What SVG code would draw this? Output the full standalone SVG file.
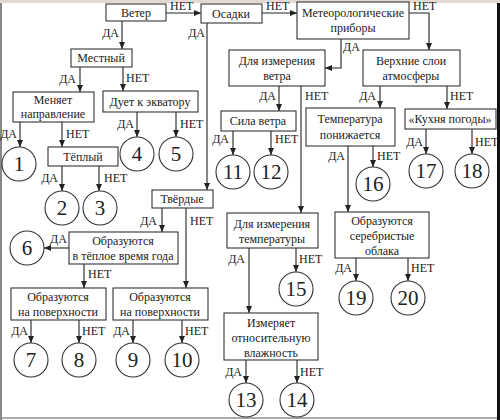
<svg xmlns="http://www.w3.org/2000/svg" width="500" height="420" viewBox="0 0 500 420">
<defs>
<marker id="ah" markerUnits="userSpaceOnUse" markerWidth="7" markerHeight="6" refX="7" refY="3" orient="auto"><path d="M0,0 L7,3 L0,6 z" fill="#222"/></marker>
<style>
.box{fill:#fff;stroke:#333;stroke-width:1.1}
.c{fill:#fff;stroke:#333;stroke-width:1.1}
.t{font-family:"Liberation Serif","Times New Roman",serif;font-size:12px;fill:#222;text-anchor:middle}
.n{font-family:"Liberation Serif","Times New Roman",serif;font-size:21px;fill:#222;text-anchor:middle}
.l{font-family:"Liberation Serif","Times New Roman",serif;font-size:12px;fill:#222}
.e{text-anchor:end}
.cn path{fill:none;stroke:#222;stroke-width:1.1;marker-end:url(#ah)}
</style>
</defs>
<rect x="0" y="0" width="500" height="420" fill="#fff"/>
<rect x="0" y="0" width="500" height="3" fill="#e2dad2"/>
<rect x="0" y="3" width="2" height="417" fill="#888"/>
<rect x="497" y="3" width="3" height="417" fill="#111"/>
<rect x="2" y="417" width="495" height="2" fill="#aaa"/>

<g id="connectors" class="cn">
<path d="M166,13 H201"/>
<path d="M122,21 V49"/>
<path d="M262,13 H297"/>
<path d="M207,23 V190"/>
<path d="M409,13 H429 V50"/>
<path d="M341,39 V68 H325"/>
<path d="M80,67 V92"/>
<path d="M123,67 V91"/>
<path d="M20,122 V147"/>
<path d="M62,122 V147"/>
<path d="M137,112 V137"/>
<path d="M176,112 V137"/>
<path d="M62,166 V191"/>
<path d="M99,166 V191"/>
<path d="M162,208 V232"/>
<path d="M186,208 V288"/>
<path d="M69,248 H44"/>
<path d="M84,264 V288"/>
<path d="M31,320 V343"/>
<path d="M79,320 V343"/>
<path d="M133,320 V343"/>
<path d="M182,320 V343"/>
<path d="M279,86 V111"/>
<path d="M301,86 V213"/>
<path d="M380,86 V108"/>
<path d="M447,86 V109"/>
<path d="M233,131 V155"/>
<path d="M271,131 V155"/>
<path d="M348,146 V212"/>
<path d="M373,146 V167"/>
<path d="M426,129 V154"/>
<path d="M472,129 V154"/>
<path d="M249,248 V313"/>
<path d="M296,248 V272"/>
<path d="M356,258 V281"/>
<path d="M408,258 V281"/>
<path d="M246,360 V383"/>
<path d="M297,360 V383"/>
<text class="l" x="170" y="10">НЕТ</text>
<text class="l e" x="119" y="37">ДА</text>
<text class="l" x="266" y="10">НЕТ</text>
<text class="l e" x="205" y="37">ДА</text>
<text class="l" x="413" y="10">НЕТ</text>
<text class="l" x="343" y="51">ДА</text>
<text class="l e" x="76" y="83">ДА</text>
<text class="l" x="126" y="82">НЕТ</text>
<text class="l e" x="17" y="138">ДА</text>
<text class="l" x="66" y="138">НЕТ</text>
<text class="l e" x="134" y="128">ДА</text>
<text class="l" x="180" y="128">НЕТ</text>
<text class="l e" x="58" y="182">ДА</text>
<text class="l" x="104" y="182">НЕТ</text>
<text class="l e" x="157" y="225">ДА</text>
<text class="l" x="190" y="225">НЕТ</text>
<text class="l" x="50" y="243">ДА</text>
<text class="l" x="88" y="278">НЕТ</text>
<text class="l e" x="28" y="335">ДА</text>
<text class="l" x="82" y="335">НЕТ</text>
<text class="l e" x="130" y="335">ДА</text>
<text class="l" x="185" y="335">НЕТ</text>
<text class="l e" x="276" y="100">ДА</text>
<text class="l" x="305" y="100">НЕТ</text>
<text class="l e" x="376" y="100">ДА</text>
<text class="l" x="450" y="100">НЕТ</text>
<text class="l e" x="229" y="143">ДА</text>
<text class="l" x="275" y="143">НЕТ</text>
<text class="l e" x="345" y="160">ДА</text>
<text class="l" x="377" y="160">НЕТ</text>
<text class="l e" x="423" y="146">ДА</text>
<text class="l" x="475" y="146">НЕТ</text>
<text class="l e" x="245" y="263">ДА</text>
<text class="l" x="299" y="263">НЕТ</text>
<text class="l e" x="352" y="272">ДА</text>
<text class="l" x="411" y="272">НЕТ</text>
<text class="l e" x="242" y="376">ДА</text>
<text class="l" x="300" y="376">НЕТ</text>
</g>

<g id="veter"><rect class="box" x="106" y="4" width="60" height="17"/><text class="t" x="136" y="17">Ветер</text></g>
<g id="osadki"><rect class="box" x="201" y="4" width="61" height="19"/><text class="t" x="231" y="18">Осадки</text></g>
<g id="meteo"><rect class="box" x="297" y="2" width="112" height="37"/><text class="t" x="353" y="17">Метеорологические</text><text class="t" x="353" y="32">приборы</text></g>
<g id="mestny"><rect class="box" x="71" y="49" width="61" height="18"/><text class="t" x="101" y="62">Местный</text></g>
<g id="menyaet"><rect class="box" x="13" y="92" width="81" height="30"/><text class="t" x="53" y="104">Меняет</text><text class="t" x="53" y="118">направление</text></g>
<g id="duet"><rect class="box" x="103" y="91" width="95" height="21"/><text class="t" x="150" y="106">Дует к экватору</text></g>
<g id="teply"><rect class="box" x="48" y="147" width="70" height="19"/><text class="t" x="83" y="161">Тёплый</text></g>
<g id="tverdye"><rect class="box" x="152" y="190" width="61" height="18"/><text class="t" x="182" y="203">Твёрдые</text></g>
<g id="obr-teploe"><rect class="box" x="69" y="232" width="109" height="32"/><text class="t" x="123" y="245">Образуются</text><text class="t" x="123" y="260">в тёплое время года</text></g>
<g id="obr-pov1"><rect class="box" x="11" y="288" width="95" height="32"/><text class="t" x="58" y="301">Образуются</text><text class="t" x="58" y="316">на поверхности</text></g>
<g id="obr-pov2"><rect class="box" x="113" y="288" width="95" height="32"/><text class="t" x="160" y="301">Образуются</text><text class="t" x="160" y="316">на поверхности</text></g>
<g id="dlya-vetra"><rect class="box" x="229" y="50" width="96" height="36"/><text class="t" x="277" y="65">Для измерения</text><text class="t" x="277" y="80">ветра</text></g>
<g id="verhnie"><rect class="box" x="363" y="50" width="97" height="36"/><text class="t" x="411" y="65">Верхние слои</text><text class="t" x="411" y="80">атмосферы</text></g>
<g id="sila"><rect class="box" x="221" y="111" width="75" height="20"/><text class="t" x="258" y="125">Сила ветра</text></g>
<g id="temp-pon"><rect class="box" x="306" y="108" width="89" height="38"/><text class="t" x="350" y="123">Температура</text><text class="t" x="350" y="139">понижается</text></g>
<g id="kuhnya"><rect class="box" x="405" y="109" width="91" height="20"/><text class="t" x="450" y="123">«Кухня погоды»</text></g>
<g id="dlya-temp"><rect class="box" x="227" y="213" width="91" height="35"/><text class="t" x="272" y="228">Для измерения</text><text class="t" x="272" y="243">температуры</text></g>
<g id="serebr"><rect class="box" x="335" y="212" width="94" height="46"/><text class="t" x="382" y="225">Образуются</text><text class="t" x="382" y="240">серебристые</text><text class="t" x="382" y="255">облака</text></g>
<g id="izmeryaet"><rect class="box" x="224" y="313" width="94" height="47"/><text class="t" x="271" y="327">Измеряет</text><text class="t" x="271" y="342">относительную</text><text class="t" x="271" y="357">влажность</text></g>

<g id="c1"><circle class="c" cx="19" cy="164" r="17"/><text class="n" x="19" y="171">1</text></g>
<g id="c2"><circle class="c" cx="62" cy="208" r="17"/><text class="n" x="62" y="215">2</text></g>
<g id="c3"><circle class="c" cx="100" cy="208" r="17"/><text class="n" x="100" y="215">3</text></g>
<g id="c4"><circle class="c" cx="137" cy="154" r="17"/><text class="n" x="137" y="161">4</text></g>
<g id="c5"><circle class="c" cx="176" cy="154" r="17"/><text class="n" x="176" y="161">5</text></g>
<g id="c6"><circle class="c" cx="27" cy="248" r="17"/><text class="n" x="27" y="255">6</text></g>
<g id="c7"><circle class="c" cx="31" cy="360" r="17"/><text class="n" x="31" y="367">7</text></g>
<g id="c8"><circle class="c" cx="79" cy="360" r="17"/><text class="n" x="79" y="367">8</text></g>
<g id="c9"><circle class="c" cx="133" cy="360" r="17"/><text class="n" x="133" y="367">9</text></g>
<g id="c10"><circle class="c" cx="182" cy="360" r="17"/><text class="n" x="182" y="367">10</text></g>
<g id="c11"><circle class="c" cx="233" cy="172" r="17"/><text class="n" x="233" y="179">11</text></g>
<g id="c12"><circle class="c" cx="271" cy="172" r="17"/><text class="n" x="271" y="179">12</text></g>
<g id="c13"><circle class="c" cx="246" cy="400" r="17"/><text class="n" x="246" y="407">13</text></g>
<g id="c14"><circle class="c" cx="297" cy="400" r="17"/><text class="n" x="297" y="407">14</text></g>
<g id="c15"><circle class="c" cx="296" cy="289" r="17"/><text class="n" x="296" y="296">15</text></g>
<g id="c16"><circle class="c" cx="373" cy="184" r="17"/><text class="n" x="373" y="191">16</text></g>
<g id="c17"><circle class="c" cx="426" cy="171" r="17"/><text class="n" x="426" y="178">17</text></g>
<g id="c18"><circle class="c" cx="472" cy="171" r="17"/><text class="n" x="472" y="178">18</text></g>
<g id="c19"><circle class="c" cx="356" cy="298" r="17"/><text class="n" x="356" y="305">19</text></g>
<g id="c20"><circle class="c" cx="408" cy="298" r="17"/><text class="n" x="408" y="305">20</text></g>
</svg>
